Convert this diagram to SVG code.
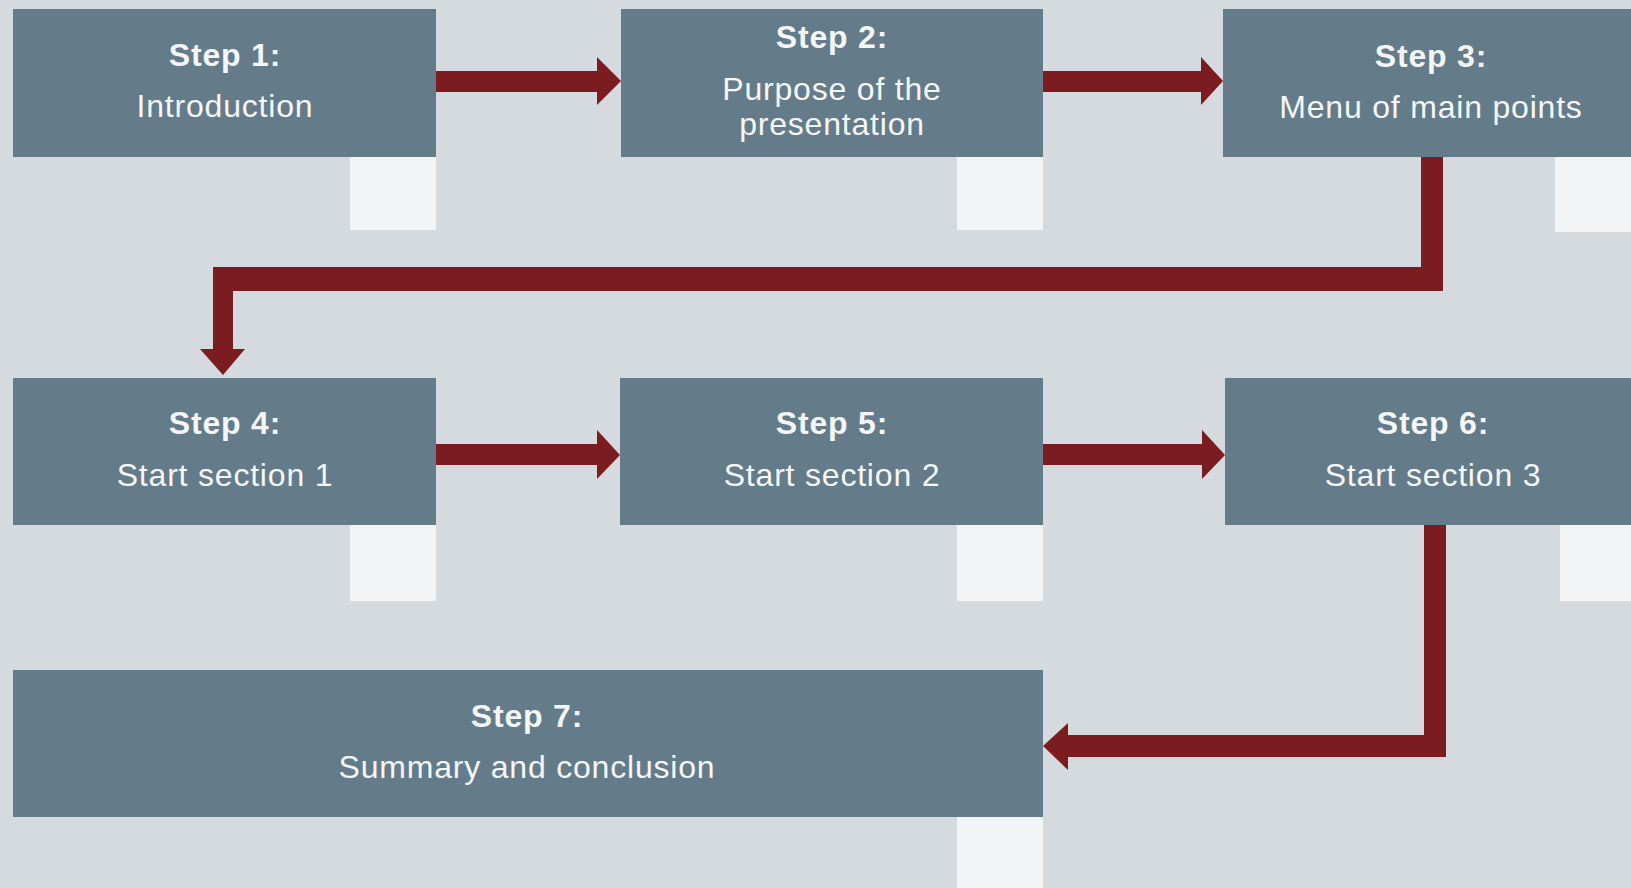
<svg xmlns="http://www.w3.org/2000/svg" width="1631" height="888" viewBox="0 0 1631 888">
  <style>
    .box { fill: #647c89; }
    .patch { fill: #f3f4f5; }
    .conn { fill: #7b1c20; }
    text { font-family: "Liberation Sans", Arial, sans-serif; fill: #f4f6f7; text-anchor: middle; font-size: 32px; letter-spacing: 0.8px; }
    .h { font-weight: bold; }
  </style>
  <rect x="0" y="0" width="1631" height="888" fill="#d5dadf"/>

  <g id="patches">
    <rect class="patch" x="350" y="157" width="86" height="73"/>
    <rect class="patch" x="957" y="157" width="86" height="73"/>
    <rect class="patch" x="1555" y="157" width="76" height="75"/>
    <rect class="patch" x="350" y="525" width="86" height="76"/>
    <rect class="patch" x="957" y="525" width="86" height="76"/>
    <rect class="patch" x="1560" y="525" width="71" height="76"/>
    <rect class="patch" x="957" y="817" width="86" height="71"/>
  </g>

  <g id="step1">
    <rect class="box" x="13" y="9" width="423" height="148"/>
    <text class="h" x="225" y="66">Step 1:</text>
    <text x="225" y="117">Introduction</text>
  </g>
  <g id="step2">
    <rect class="box" x="621" y="9" width="422" height="148"/>
    <text class="h" x="832" y="48">Step 2:</text>
    <text x="832" y="100">Purpose of the</text>
    <text x="832" y="135">presentation</text>
  </g>
  <g id="step3">
    <rect class="box" x="1223" y="9" width="408" height="148"/>
    <text class="h" x="1431" y="67">Step 3:</text>
    <text x="1431" y="118">Menu of main points</text>
  </g>
  <g id="step4">
    <rect class="box" x="13" y="378" width="423" height="147"/>
    <text class="h" x="225" y="434">Step 4:</text>
    <text x="225" y="486">Start section 1</text>
  </g>
  <g id="step5">
    <rect class="box" x="620" y="378" width="423" height="147"/>
    <text class="h" x="832" y="434">Step 5:</text>
    <text x="832" y="486">Start section 2</text>
  </g>
  <g id="step6">
    <rect class="box" x="1225" y="378" width="406" height="147"/>
    <text class="h" x="1433" y="434">Step 6:</text>
    <text x="1433" y="486">Start section 3</text>
  </g>
  <g id="step7">
    <rect class="box" x="13" y="670" width="1030" height="147"/>
    <text class="h" x="527" y="727">Step 7:</text>
    <text x="527" y="778">Summary and conclusion</text>
  </g>

  <g id="connectors">
    <polygon class="conn" points="436,71 597,71 597,57 621,81 597,105 597,92 436,92"/>
    <polygon class="conn" points="1043,71 1201,71 1201,57 1223,81 1201,105 1201,92 1043,92"/>
    <polygon class="conn" points="1421,157 1443,157 1443,291 233,291 233,349 245,349 223,375 200,349 213,349 213,267 1421,267"/>
    <polygon class="conn" points="436,444 597,444 597,430 620,455 597,479 597,465 436,465"/>
    <polygon class="conn" points="1043,444 1202,444 1202,430 1225,455 1202,479 1202,465 1043,465"/>
    <polygon class="conn" points="1424,525 1446,525 1446,757 1068,757 1068,770 1043,746 1068,723 1068,735 1424,735"/>
  </g>
</svg>
